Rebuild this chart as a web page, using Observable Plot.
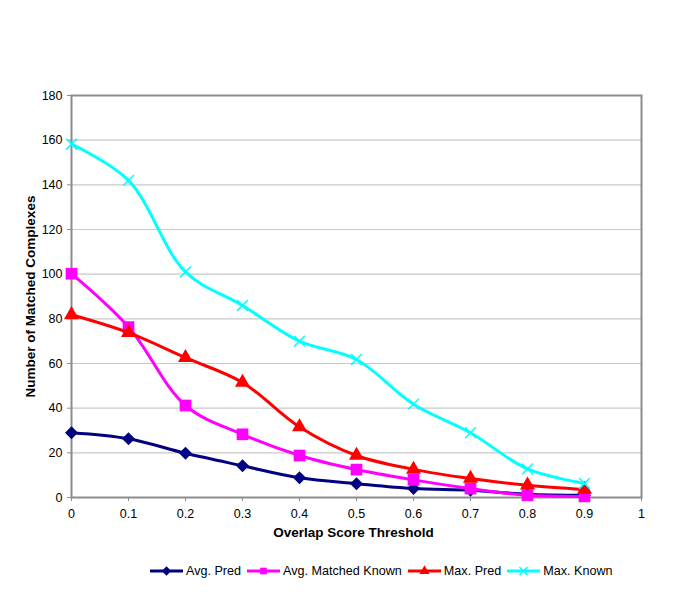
<!DOCTYPE html>
<html>
<head>
<meta charset="utf-8">
<script src="https://cdn.jsdelivr.net/npm/d3@7"></script>
<script src="https://cdn.jsdelivr.net/npm/@observablehq/plot@0.6"></script>
<style>
  html, body { margin: 0; padding: 0; background: #fff; }
  body { width: 685px; font-family: "Liberation Sans", Arial, sans-serif; }
  #chart svg { display: block; }
  #legend { display: flex; align-items: center; margin-top: 13px; padding-left: 150px; font-size: 12.6px; color: #000; height: 16px; white-space: nowrap; }
  #legend .item { display: flex; align-items: center; margin-right: 6px; }
  #legend svg { margin-right: 3px; display: block; }
</style>
</head>
<body>
<div id="chart"></div>
<div id="legend"></div>
<script>
const thresholds = [0, 0.1, 0.2, 0.3, 0.4, 0.5, 0.6, 0.7, 0.8, 0.9];
const seriesNames = ["Avg. Pred", "Avg. Matched Known", "Max. Pred", "Max. Known"];
const seriesColors = ["#000080", "#ff00ff", "#ff0000", "#00ffff"];
const avgPred = [29, 26.3, 19.8, 14.2, 8.8, 6.2, 4, 3.2, 1.5, 1];
const avgMatchedKnown = [100.2, 76.3, 41.2, 28.3, 18.8, 12.5, 7.9, 4, 1, 0.5];
const maxPred = [81.8, 73.8, 62.6, 51.5, 31.6, 18.8, 12.6, 8.5, 5.5, 3.6];
const maxKnown = [158.2, 142, 101, 86, 70, 61.8, 41.8, 29, 12.8, 6.3];
const xTicks = [0, 0.1, 0.2, 0.3, 0.4, 0.5, 0.6, 0.7, 0.8, 0.9, 1];
const yTicks = [0, 20, 40, 60, 80, 100, 120, 140, 160, 180];

const seriesValues = [avgPred, avgMatchedKnown, maxPred, maxKnown];
const data = [];
seriesNames.forEach((name, i) => {
  thresholds.forEach((t, j) => data.push({series: name, x: t, y: seriesValues[i][j]}));
});

const diamondSym = {
  draw(ctx, size) {
    const r = Math.sqrt(size / 2);
    ctx.moveTo(0, -r); ctx.lineTo(r, 0); ctx.lineTo(0, r); ctx.lineTo(-r, 0); ctx.closePath();
  }
};
const symbols = [diamondSym, "square", "triangle", "times"];
const radii = [5.2, 6.6, 5.6, 5];

const marks = [
  Plot.gridY(yTicks.filter(d => d > 0 && d < 180), {stroke: "#c8c8c8", strokeOpacity: 1, strokeWidth: 1.2}),
  Plot.frame({stroke: "#8c8c8c", strokeWidth: 2}),
  Plot.axisX({ticks: xTicks, tickSize: 4, tickPadding: 8, tickFormat: d => String(+d.toFixed(1)), label: null, stroke: "#8c8c8c", fontSize: 12.5}),
  Plot.axisY({ticks: yTicks, tickSize: 4, tickPadding: 5, label: null, stroke: "#8c8c8c", fontSize: 12.5}),
  Plot.text(["Overlap Score Threshold"], {frameAnchor: "bottom", dy: 39, dx: -3, fontWeight: "bold", fontSize: 13.5}),
  Plot.text(["Number of Matched Complexes"], {frameAnchor: "left", rotate: -90, dx: -41, textAnchor: "middle", fontWeight: "bold", fontSize: 13.5})
];
seriesNames.forEach((name, i) => {
  const sub = data.filter(d => d.series === name);
  marks.push(Plot.line(sub, {x: "x", y: "y", stroke: seriesColors[i], strokeWidth: 3, curve: "catmull-rom"}));
  if (symbols[i] === "times") {
    marks.push(Plot.dot(sub, {x: "x", y: "y", symbol: symbols[i], r: radii[i], stroke: seriesColors[i], strokeWidth: 1.5}));
  } else {
    marks.push(Plot.dot(sub, {x: "x", y: "y", symbol: symbols[i], r: radii[i], fill: seriesColors[i], stroke: "none"}));
  }
});

const plot = Plot.plot({
  width: 685,
  height: 550,
  marginTop: 95,
  marginLeft: 71,
  marginRight: 44,
  marginBottom: 53,
  style: {fontFamily: '"Liberation Sans", Arial, sans-serif', fontSize: "12.5px", color: "#000", background: "#fff"},
  x: {domain: [0, 1]},
  y: {domain: [0, 180]},
  marks
});
document.getElementById("chart").appendChild(plot);

// Legend
const legend = document.getElementById("legend");
seriesNames.forEach((name, i) => {
  const item = document.createElement("div");
  item.className = "item";
  const w = 33, h = 14;
  const svg = d3.create("svg").attr("width", w).attr("height", h);
  svg.append("line").attr("x1", 0).attr("x2", w).attr("y1", h / 2).attr("y2", h / 2)
    .attr("stroke", seriesColors[i]).attr("stroke-width", 3);
  const sym = symbols[i] === "times" ? d3.symbolTimes : symbols[i] === "square" ? d3.symbolSquare : symbols[i] === "triangle" ? d3.symbolTriangle : diamondSym;
  const p = svg.append("path").attr("transform", `translate(${w / 2},${h / 2})`)
    .attr("d", d3.symbol(sym, Math.PI * 14)());
  if (symbols[i] === "times") p.attr("fill", "none").attr("stroke", seriesColors[i]).attr("stroke-width", 1.5);
  else p.attr("fill", seriesColors[i]);
  item.appendChild(svg.node());
  const label = document.createElement("span");
  label.textContent = name;
  item.appendChild(label);
  legend.appendChild(item);
});
</script>
</body>
</html>
